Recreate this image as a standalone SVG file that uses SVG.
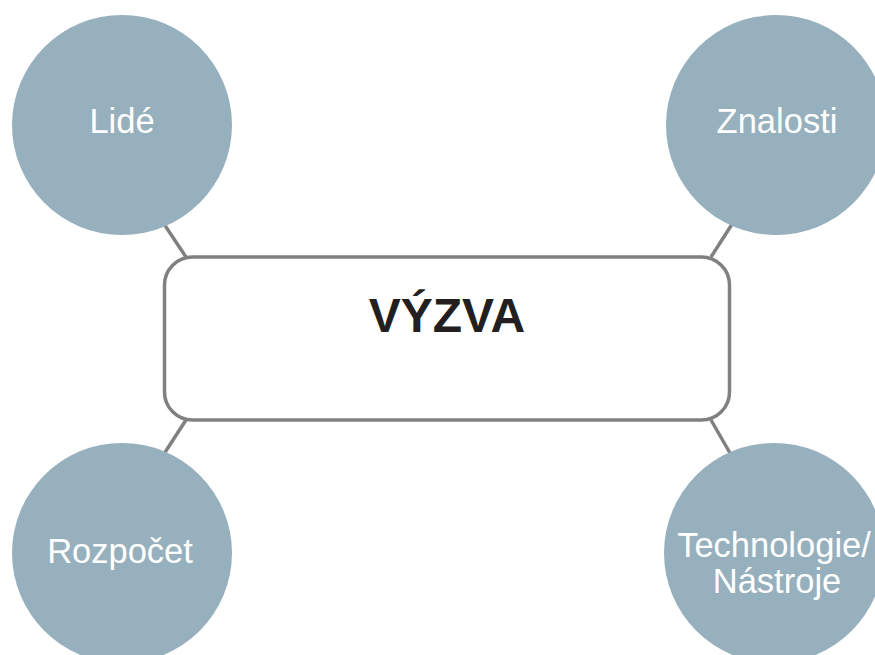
<svg xmlns="http://www.w3.org/2000/svg" width="875" height="655" viewBox="0 0 875 655">
<style>
.conn{stroke:#808080;stroke-width:3.5;fill:none}
.bubble{fill:#97b0bd}
.lbl{font-family:"Liberation Sans",Arial,sans-serif;font-size:34.5px;fill:#ffffff;text-anchor:middle}
.title{font-family:"Liberation Sans",Arial,sans-serif;font-size:48px;font-weight:bold;fill:#231f20;text-anchor:middle}
</style>
<rect width="875" height="655" fill="#ffffff"/>
<g id="connectors">
<line class="conn" x1="160" y1="218" x2="186" y2="257"/>
<line class="conn" x1="736" y1="218" x2="711" y2="257"/>
<line class="conn" x1="186" y1="420" x2="160" y2="460"/>
<line class="conn" x1="711" y1="420" x2="734" y2="460"/>
</g>
<g id="center">
<rect x="164.5" y="257" width="565" height="163" rx="28" ry="28" fill="#ffffff" stroke="#808080" stroke-width="3.5"/>
<text class="title" x="447" y="331.5">VÝZVA</text>
</g>
<g id="lide">
<circle class="bubble" cx="122" cy="125" r="110"/>
<text class="lbl" x="122" y="133.3">Lidé</text>
</g>
<g id="znalosti">
<circle class="bubble" cx="776" cy="125" r="110"/>
<text class="lbl" x="777" y="133.3">Znalosti</text>
</g>
<g id="rozpocet">
<circle class="bubble" cx="122" cy="553" r="110"/>
<text class="lbl" x="120" y="562.7">Rozpočet</text>
</g>
<g id="technologie">
<circle class="bubble" cx="774" cy="553" r="110"/>
<text class="lbl" x="774" y="557.3">Technologie/</text>
<text class="lbl" x="777" y="593.3">Nástroje</text>
</g>
</svg>
